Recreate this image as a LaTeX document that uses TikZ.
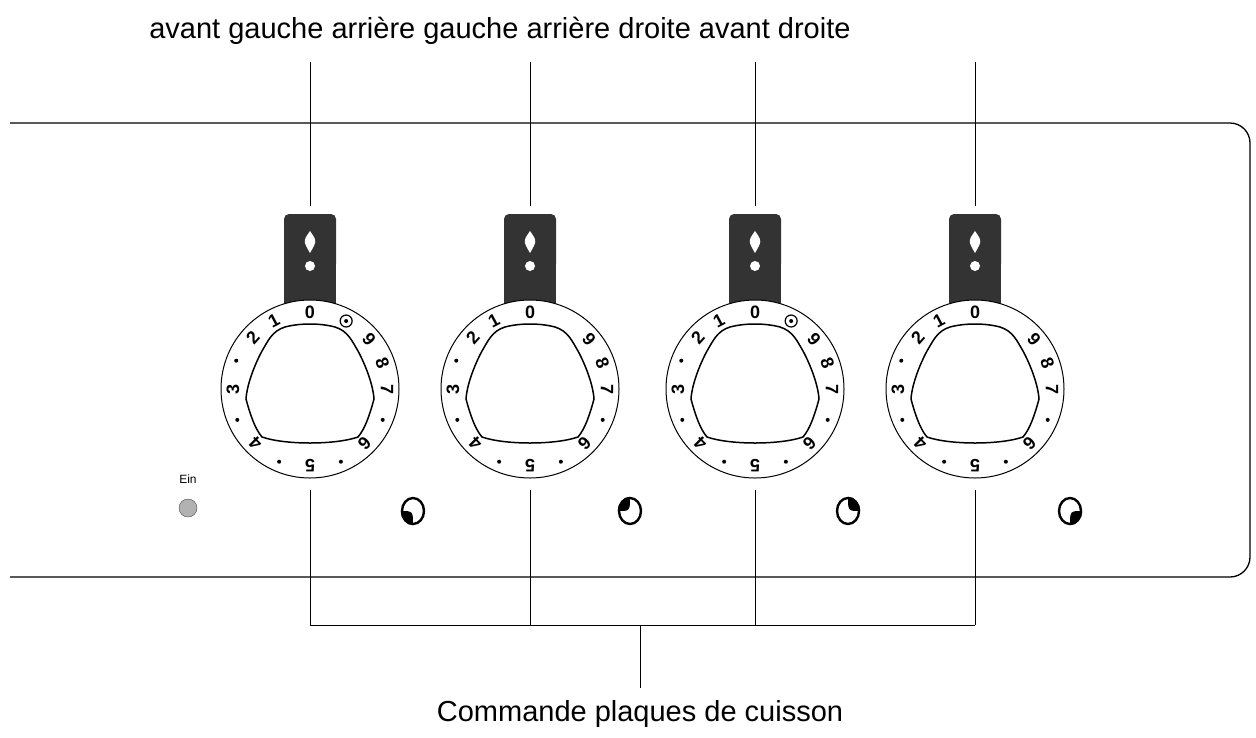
\documentclass[tikz,border=0pt]{standalone}
\usepackage{fontspec}
\setmainfont{Liberation Sans}
\begin{document}
\begin{tikzpicture}[x=1pt,y=-1pt,
  ln/.style={line width=1pt},
  lbl/.style={font=\fontsize{29}{34}\selectfont, inner sep=0pt},
  num/.style={font=\bfseries\fontsize{18}{20}\selectfont, inner sep=0pt}]
\useasboundingbox (0,0) rectangle (1256,737);
% frame
\draw[line width=1.3pt] (10,123) -- (1230,123) arc[start angle=270,end angle=360,radius=20] -- (1250,557) arc[start angle=0,end angle=90,radius=20] -- (10,577);
% top text
\node[lbl] (top) at (500,31) {avant gauche arrière gauche arrière droite avant droite};
% knobs
\foreach \x/\nm/\extra in {310/k1/1,530/k2/0,755/k3/1,975/k4/0}{
  \begin{scope}[shift={(\x,389)}]
    \fill[black!80] (-26,-85) rectangle (26,-160);
    \fill[black!80,rounded corners=5pt] (-26,-120) rectangle (26,-175);
    \fill[white] (0,-158) .. controls (7,-148) .. (0,-136) .. controls (-7,-148) .. (0,-158);
    \fill[white] (0,-123) circle (5);
    \draw[ln,fill=white] (0,0) circle (89);
    \draw[line width=1.5pt] (-25,-62) .. controls (-10,-66) and (10,-66) .. (25,-62)
       .. controls (38,-58) and (42,-48) .. (48,-38)
       .. controls (55,-25) and (63,-5) .. (64,10)
       .. controls (60,25) and (55,40) .. (48,48)
       .. controls (25,56) and (-25,56) .. (-48,48)
       .. controls (-55,40) and (-60,25) .. (-64,10)
       .. controls (-63,-5) and (-55,-25) .. (-48,-38)
       .. controls (-42,-48) and (-38,-58) .. (-25,-62);
    \foreach \a/\t in {90/0,118/1,138/2,180/3,225/4,270/5,315/6,0/7,20/8,40/9}{
      \node[num,rotate=\a-90] at ({77*cos(\a)},{-77*sin(\a)}) {\t};}
    \foreach \a in {159,203,247,293,337}{
      \fill ({79*cos(\a)},{-79*sin(\a)}) circle (2);}
    \ifnum\extra=1
      \draw[line width=1.2pt] ({77*cos(62)},{-77*sin(62)}) circle (6);
      \fill ({77*cos(62)},{-77*sin(62)}) circle (2);
    \fi
    \coordinate (\nm t) at (0,-183);
    \coordinate (\nm b) at (0,101);
  \end{scope}
}
\foreach \x/\nm in {310/k1,530/k2,755/k3,975/k4}{
  \coordinate (\nm top) at (\x,62);
  \coordinate (\nm bot) at (\x,625);
  \draw[ln] (\nm top) -- (\nm t);
  \draw[ln] (\nm b) -- (\nm bot);
}
\draw[ln] (k1bot) -- (k4bot);
\coordinate (mid) at (640,625);
\node[lbl] (bottom) at (640,714) {Commande plaques de cuisson};
\draw[ln] (mid) -- (640,688);
% Ein LED
\node[font=\fontsize{12}{14}\selectfont, inner sep=0pt] (ein) at (188,479) {Ein};
\node[circle,draw=black!70,fill=black!30,minimum size=18pt,inner sep=0pt] (led) at (188,508) {};
% icons
\foreach \x/\s/\e in {413/180/90,630/180/270,848/270/360,1070/0/90}{
  \begin{scope}[shift={(\x,511)}]
    \draw[line width=2.4pt] (0,0) ellipse (11 and 13);
    \fill (\s:{12.2} and {14.2}) arc[start angle=\s,end angle=\e,x radius=12.2,y radius=14.2]
      .. controls (0,0) .. (\s:{12.2} and {14.2});
  \end{scope}
}
\end{tikzpicture}
\end{document}
